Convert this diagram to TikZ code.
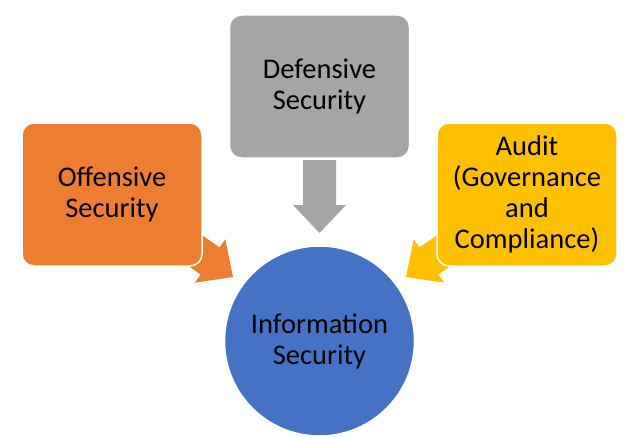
\documentclass[tikz,border=0pt]{standalone}
\usepackage{fontspec}
\setmainfont{Carlito}
\usepackage{tikz}
\usetikzlibrary{calc}
\usetikzlibrary{positioning}
\usepackage{xcolor}

\definecolor{offorange}{HTML}{ED7D31}
\definecolor{defgray}{HTML}{A5A5A5}
\definecolor{auditgold}{HTML}{FFC000}
\definecolor{infoblue}{HTML}{4472C4}

% block arrow: #1 colour, #2 tail, #3 tip
\newcommand{\blockarrow}[3]{%
  \path ($(#3)!28pt!(#2)$) coordinate (hb);
  \fill[#1] ($(#2)!16.5pt!90:(#3)$) -- ($(hb)!16.5pt!90:(#3)$)
    -- ($(hb)!26.5pt!90:(#3)$) -- (#3) -- ($(hb)!26.5pt!-90:(#3)$)
    -- ($(hb)!16.5pt!-90:(#3)$) -- ($(#2)!16.5pt!-90:(#3)$) -- cycle;
}

\begin{document}
\begin{tikzpicture}[x=1pt, y=-1pt,
    txt/.style={align=center, text=black, font=\fontsize{28.5}{31}\selectfont},
    secbox/.style={txt, rectangle, rounded corners=12pt, draw=white, line width=1.5pt,
        minimum width=180pt, minimum height=143pt, inner sep=0pt}]
    \useasboundingbox (0,0) rectangle (631,436);

    % 1. Ends of the three block arrows
    \coordinate (offtail) at (173.2,235.1);
    \coordinate (offtip) at (233,277);
    \coordinate (audtail) at (465.8,235.1);
    \coordinate (audtip) at (406,277);
    \coordinate (deftail) at (319.5,160);
    \coordinate (deftip) at (319.5,233);

    % 2. Arrows go behind the boxes
    \blockarrow{offorange}{offtail}{offtip}
    \blockarrow{auditgold}{audtail}{audtip}
    \blockarrow{defgray}{deftail}{deftip}

    % 3. The three boxes
    \node[secbox, fill=defgray] (defense) at (319.5,86.5) {Defensive\\Security};
    \node[secbox, fill=offorange] (offense) at (112,194.5) {Offensive\\Security};
    \node[secbox, fill=auditgold] (audit) at (527,194.5) {Audit\\(Governance\\and\\Compliance)};

    % 4. The circle in the middle
    \node[txt, circle, fill=infoblue, draw=white, line width=1.5pt, minimum size=190pt,
        inner sep=0pt] (infosec) at (319.5,341) {Information\\Security};

\end{tikzpicture}
\end{document}
